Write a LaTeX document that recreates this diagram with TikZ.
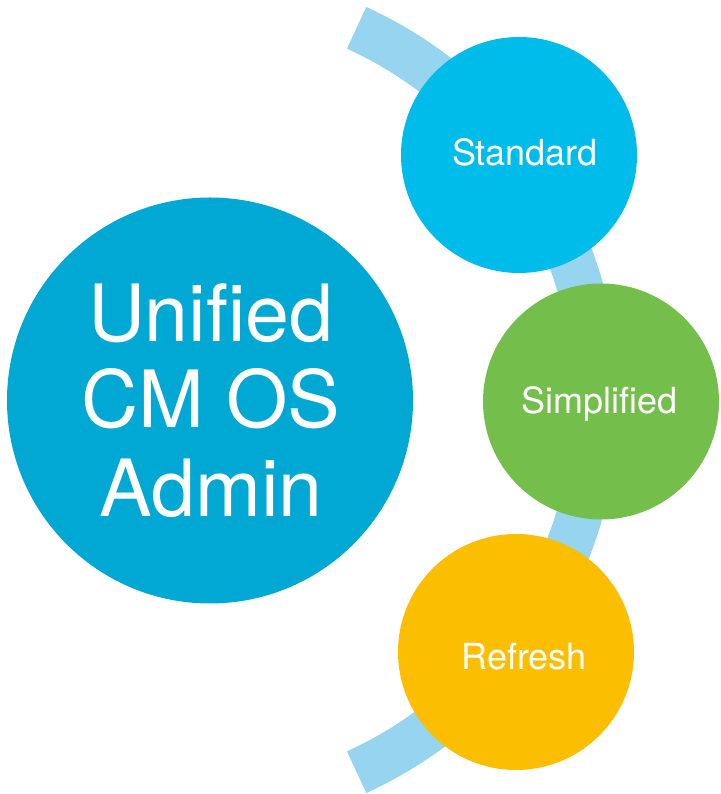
\documentclass[tikz,border=0pt]{standalone}
\usepackage{fontspec}
\setmainfont{TeX Gyre Heros}
\usetikzlibrary{calc}
\definecolor{bigblue}{HTML}{02A8D4}
\definecolor{stdblue}{HTML}{00BCEB}
\definecolor{simpgreen}{HTML}{74BF4B}
\definecolor{refyellow}{HTML}{FBBE00}
\definecolor{arcblue}{HTML}{97D4F0}
\tikzset{
  disc/.style={circle, inner sep=0pt, draw=none},
  bigtext/.style={anchor=base, text=white, inner sep=0pt, font=\fontsize{79}{87}\selectfont},
  smalltext/.style={anchor=base, text=white, inner sep=0pt, font=\fontsize{36}{42}\selectfont},
  band/.style={draw=arcblue, line width=46pt, line cap=butt}
}
\begin{document}
\begin{tikzpicture}[x=1pt,y=1pt]
\useasboundingbox (0,0) rectangle (720,794);
\coordinate (arcc) at (187,394);
\draw[band] ($(arcc)+(-65.5:409)$) arc[start angle=-65.5, end angle=65.5, radius=409pt];
\node[disc, fill=bigblue, minimum size=406pt] (admin) at (210,393.5) {};
\node[disc, fill=stdblue, minimum size=236pt] (std) at (519,639) {};
\node[disc, fill=simpgreen, minimum size=236pt] (simp) at (601,392.5) {};
\node[disc, fill=refyellow, minimum size=236pt] (ref) at (516,142) {};
\node[bigtext] (l1) at (211,452) {Unified};
\node[bigtext] (l2) at (211,366) {CM OS};
\node[bigtext] (l3) at (211,277) {Admin};
\node[smalltext] (tstd) at (525,628) {Standard};
\node[smalltext] (tsimp) at (599.5,380) {Simplified};
\node[smalltext] (tref) at (524,124) {Refresh};
\end{tikzpicture}
\end{document}
